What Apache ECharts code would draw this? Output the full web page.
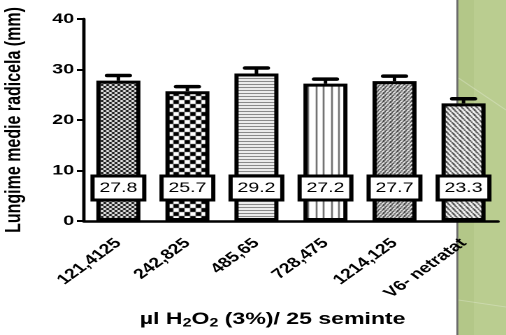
<!DOCTYPE html>
<html>
<head>
<meta charset="utf-8">
<script src="https://cdn.jsdelivr.net/npm/echarts@6/dist/echarts.min.js"></script>
<style>
html,body{margin:0;padding:0;background:#fff;overflow:hidden;width:506px;height:335px;}
#chart{width:362px;height:335px;transform:scaleX(1.3978);transform-origin:0 0;}
</style>
</head>
<body>
<div id="chart"></div>
<script>
// ---- data ----
const categories = ['121,4125', '242,825', '485,65', '728,475', '1214,125', 'V6- netratat'];
const means = [27.8, 25.7, 29.2, 27.2, 27.7, 23.3];
const errors = [1.0, 0.9, 1.1, 0.9, 1.0, 0.9];
const yMin = 0, yMax = 40, yInterval = 10;
const yTitle = 'Lungime medie radicela (mm)';

// ---- patterns (tiles drawn in the chart's un-stretched space) ----
function makeTile(w, h, fn) {
  const c = document.createElement('canvas');
  c.width = w; c.height = h;
  const ctx = c.getContext('2d');
  const img = ctx.createImageData(w, h);
  for (let y = 0; y < h; y++) for (let x = 0; x < w; x++) {
    const v = fn(x, y);
    const i = (y * w + x) * 4;
    img.data[i] = v; img.data[i + 1] = v; img.data[i + 2] = v; img.data[i + 3] = 255;
  }
  ctx.putImageData(img, 0, 0);
  return c;
}
function diag(period, sign, thick) {
  return (x, y) => {
    let v = (y + sign * 1.4 * x) % period;
    if (v < 0) v += period;
    const d = Math.min(v, period - v);
    return d < thick ? 20 : (d < thick + 0.5 ? 140 : 255);
  };
}
const patterns = [
  makeTile(4, 4, (x, y) => ((Math.floor(x / 2) + Math.floor(y / 2)) % 2 ? 255 : 0)),
  makeTile(8, 8, (x, y) => ((Math.floor(x / 4) + Math.floor(y / 4)) % 2 ? 255 : 0)),
  makeTile(3, 3, (x, y) => (y === 0 ? 100 : 255)),
  makeTile(11, 4, (x, y) => (x === 0 || x === 6 ? 70 : 255)),
  makeTile(20, 4, diag(4, 1, 0.6)),
  makeTile(25, 5, diag(5, -1, 0.6))
];

const chart = echarts.init(document.getElementById('chart'), null, { devicePixelRatio: 2 });
const option = {
  animation: false,
  backgroundColor: 'transparent',
  graphic: [
    { type: 'rect', z: -10, shape: { x: 327.5, y: 0, width: 40, height: 335 }, style: { fill: '#bacd90' } },
    { type: 'rect', z: -9, shape: { x: 328, y: 0, width: 11, height: 335 }, style: { fill: '#b3c788' } },
    { type: 'line', z: -8, shape: { x1: 328, y1: 78, x2: 362, y2: 110 }, style: { stroke: 'rgba(255,255,255,0.25)', lineWidth: 1 } },
    { type: 'line', z: -8, shape: { x1: 328, y1: 300, x2: 362, y2: 307 }, style: { stroke: 'rgba(255,255,255,0.25)', lineWidth: 1 } },
    { type: 'rect', z: -7, shape: { x: 326.5, y: 0, width: 1.4, height: 335 }, style: { fill: '#6a6a6a' } },
    {
      type: 'text', left: 100, top: 311, z: 10,
      style: {
        text: '{b|µl H}{s|2}{b|O}{s|2}{b| (3%)/ 25 seminte}',
        rich: {
          b: { fontFamily: 'Liberation Sans, Arial', fontWeight: 'bold', fontSize: 16.5, fill: '#000', lineHeight: 20, verticalAlign: 'middle' },
          s: { fontFamily: 'Liberation Sans, Arial', fontWeight: 'bold', fontSize: 11.5, fill: '#000', lineHeight: 20, verticalAlign: 'bottom' }
        }
      }
    }
  ],
  grid: { left: 60, right: 5.7, top: 19, bottom: 114, containLabel: false, outerBoundsMode: 'none' },
  xAxis: {
    type: 'category',
    data: categories,
    axisLine: { lineStyle: { color: '#000', width: 2.5 } },
    axisTick: { alignWithLabel: true, length: 6, lineStyle: { color: '#000', width: 2 } },
    axisLabel: { rotate: 45, margin: 20, color: '#000', fontWeight: 'bold', fontSize: 14, fontFamily: 'Liberation Sans, Arial' }
  },
  yAxis: {
    type: 'value',
    min: yMin, max: yMax, interval: yInterval,
    name: yTitle,
    nameLocation: 'middle',
    nameGap: 42,
    nameRotate: 90,
    nameTextStyle: { color: '#000', fontWeight: 'bold', fontSize: 16, fontFamily: 'Liberation Sans, Arial' },
    axisLine: { show: true, lineStyle: { color: '#000', width: 2.4 } },
    axisTick: { show: true, length: 5, lineStyle: { color: '#000', width: 2 } },
    splitLine: { show: false },
    axisLabel: { margin: 7, color: '#000', fontWeight: 'bold', fontSize: 14, fontFamily: 'Liberation Sans, Arial' }
  },
  series: [
    {
      type: 'bar',
      barWidth: 31.5,
      data: means.map((v, i) => ({
        value: v,
        itemStyle: { color: { image: patterns[i], repeat: 'repeat' }, borderColor: '#000', borderWidth: 3 }
      })),
      label: {
        show: true,
        position: 'insideBottom',
        distance: 33,
        formatter: p => p.value.toFixed(1),
        color: '#000',
        fontSize: 14,
        fontFamily: 'Liberation Sans, Arial',
        backgroundColor: '#fff',
        borderColor: '#000',
        borderWidth: 3,
        width: 34,
        height: 21,
        lineHeight: 21,
        align: 'center',
        verticalAlign: 'middle'
      },
      z: 2
    },
    {
      type: 'custom',
      z: 3,
      data: means.map((v, i) => [i, v, errors[i]]),
      renderItem: function (params, api) {
        const base = api.coord([api.value(0), api.value(1)]);
        const top = api.coord([api.value(0), api.value(1) + api.value(2)]);
        return {
          type: 'group',
          children: [
            { type: 'line', shape: { x1: base[0], y1: base[1], x2: top[0], y2: top[1] }, style: { stroke: '#000', lineWidth: 2.5 } },
            { type: 'line', shape: { x1: top[0] - 8, y1: top[1], x2: top[0] + 8, y2: top[1] }, style: { stroke: '#000', lineWidth: 3.5, lineCap: 'round' } }
          ]
        };
      }
    }
  ]
};
chart.setOption(option);
</script>
</body>
</html>
